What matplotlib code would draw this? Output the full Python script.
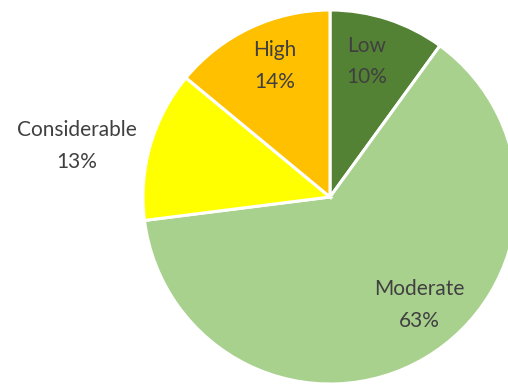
import matplotlib
matplotlib.use("Agg")
import matplotlib.pyplot as plt
import numpy as np

# Risk level shares (percent), clockwise from 12 o'clock
categories = ["Low", "Moderate", "Considerable", "High"]
shares = [10, 63, 13, 14]
colors = ["#548235", "#A9D18E", "#FFFF00", "#FFC000"]

# label placement per wedge: (radius, angle offset in degrees)
label_place = [(0.75, 3.0), (0.75, 9.2), (1.38, 4.8), (0.76, -2.5)]

W, H = 508, 388
cx, cy, R = 330, 197, 187  # pie centre and radius in pixels

fig = plt.figure(figsize=(W / 100, H / 100), dpi=100)
ax = fig.add_axes([0, 0, 1, 1])

wedges, _ = ax.pie(
    shares,
    colors=colors,
    startangle=90,
    counterclock=False,
    radius=1.0,
    wedgeprops=dict(edgecolor="white", linewidth=2.2),
)

ax.set_xlim(-cx / R, (W - cx) / R)
ax.set_ylim(-(H - cy) / R, cy / R)
ax.set_aspect("auto")
ax.axis("off")

for w, name, val, (r, off) in zip(wedges, categories, shares, label_place):
    mid = np.deg2rad((w.theta1 + w.theta2) / 2 + off)
    ax.text(
        r * np.cos(mid), r * np.sin(mid),
        f"{name}\n{val}%",
        ha="center", va="center",
        fontsize=15, family=["Lato", "DejaVu Sans"],
        color="#404040", linespacing=1.72,
    )

fig.savefig("out.png", dpi=100)
